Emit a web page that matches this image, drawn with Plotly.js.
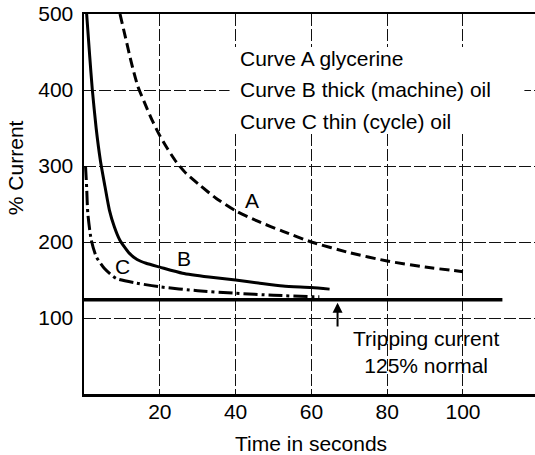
<!DOCTYPE html>
<html>
<head>
<meta charset="utf-8">
<script src="https://cdn.plot.ly/plotly-3.0.1.min.js"></script>
<style>html,body{margin:0;padding:0;background:#fff;}#chart{width:535px;height:455px;}</style>
</head>
<body>
<div id="chart"></div>
<script>
// Curve A: glycerine
const curveA_t = [9.5, 11, 12.5, 14.2, 16, 18, 20, 22, 24.4, 27, 30.5, 35, 40, 46, 52.5, 60, 70, 80, 90, 100];
const curveA_pct = [500, 468, 436, 405, 383, 360, 340, 323, 305, 290, 275, 257, 241, 227, 214, 200, 186, 175, 167, 161];
// Curve B: thick (machine) oil
const curveB_t = [0.7, 1.5, 2.2, 3.2, 4.3, 5.5, 6.7, 8, 9.4, 12, 14, 16.4, 20, 26, 33, 40, 46, 52.5, 60, 64.8];
const curveB_pct = [500, 445, 400, 350, 308, 274, 242, 220, 203, 185, 177, 172, 167, 159, 154, 150, 146, 142, 140, 138];
// Curve C: thin (cycle) oil
const curveC_t = [0.4, 0.7, 1.0, 1.9, 3.2, 5.4, 8.5, 13.8, 20, 30, 40, 50, 60, 62.1];
const curveC_pct = [300, 272, 238, 203, 181, 165, 152, 146, 141, 136, 132.5, 130, 128, 128];
// Tripping current line
const trip_t = [0, 110.4];
const trip_pct = [124, 124];

const xTicks = [20, 40, 60, 80, 100];
const yTicks = [100, 200, 300, 400, 500];
const legendLines = ["Curve A glycerine", "Curve B thick (machine) oil", "Curve C thin (cycle) oil"];
const tripLabel = ["Tripping current", "125% normal"];

const FONT = '"Liberation Sans", Arial, Helvetica, sans-serif';
const FS = 21;

const traces = [
  {x: curveA_t, y: curveA_pct, mode: 'lines', line: {color: '#000', width: 3, dash: '10px,5px', shape: 'spline', smoothing: 0.6}},
  {x: curveB_t, y: curveB_pct, mode: 'lines', line: {color: '#000', width: 3, shape: 'spline', smoothing: 0.6}},
  {x: curveC_t, y: curveC_pct, mode: 'lines', line: {color: '#000', width: 3, dash: '14px,4px,3px,4px', shape: 'spline', smoothing: 0.6}},
  {x: trip_t, y: trip_pct, mode: 'lines', line: {color: '#000', width: 3.5}}
];

const ann = [];
const legY = [0.8816, 0.8026, 0.7184];
legendLines.forEach((t, i) => ann.push({xref: 'paper', yref: 'paper', x: 0.3415, y: legY[i], xanchor: 'left', yanchor: 'middle', text: t, showarrow: false, font: {size: FS, color: '#000', family: FONT}}));
ann.push({xref: 'paper', yref: 'paper', x: 0.7594, y: 0.1105, xanchor: 'center', yanchor: 'middle', align: 'center', text: tripLabel.join('<br>'), showarrow: false, font: {size: FS, color: '#000', family: FONT}});
ann.push({x: 44.4, y: 255, text: 'A', showarrow: false, font: {size: FS, color: '#000', family: FONT}});
ann.push({x: 26.5, y: 178.5, text: 'B', showarrow: false, font: {size: FS, color: '#000', family: FONT}});
ann.push({x: 10.2, y: 167.5, text: 'C', showarrow: false, font: {size: FS, color: '#000', family: FONT}});
ann.push({x: 66.9, y: 120, ax: 66.9, ay: 87, axref: 'x', ayref: 'y', text: '', showarrow: true, arrowhead: 2, arrowsize: 1, arrowwidth: 2, arrowcolor: '#000', standoff: 0});
ann.push({xref: 'paper', yref: 'paper', x: -0.153, y: 0.597, text: '% Current', textangle: -90, showarrow: false, xanchor: 'center', yanchor: 'middle', font: {size: FS, color: '#000', family: FONT}});
ann.push({xref: 'paper', yref: 'paper', x: 0.503, y: -0.129, text: 'Time in seconds', showarrow: false, xanchor: 'center', yanchor: 'middle', font: {size: FS, color: '#000', family: FONT}});

const layout = {
  width: 535, height: 455,
  margin: {l: 84, r: 0, t: 14, b: 61, pad: 0},
  paper_bgcolor: '#fff', plot_bgcolor: '#fff',
  showlegend: false,
  font: {family: FONT, size: FS, color: '#000'},
  xaxis: {range: [0, 119], tickvals: xTicks, ticktext: xTicks.map(String), ticks: '', ticklabelstandoff: -3, showgrid: true, gridcolor: '#111', gridwidth: 1, griddash: '12px,3px', zeroline: false, showline: true, linecolor: '#000', linewidth: 2.5, mirror: true, tickfont: {size: FS, color: '#000', family: FONT}},
  yaxis: {range: [0, 500], tickvals: yTicks, ticktext: yTicks.map(String), ticks: '', ticklabelstandoff: 4, showgrid: true, gridcolor: '#111', gridwidth: 1, griddash: '12px,3px', zeroline: false, showline: true, linecolor: '#000', linewidth: 2.5, tickfont: {size: FS, color: '#000', family: FONT}},
  shapes: [{type: 'rect', xref: 'x', yref: 'y', x0: 38.4, x1: 116.2, y0: 343, y1: 456.6, fillcolor: '#fff', line: {width: 0}, layer: 'between'}],
  annotations: ann
};

Plotly.newPlot('chart', traces, layout, {displayModeBar: false, staticPlot: true});
</script>
</body>
</html>
